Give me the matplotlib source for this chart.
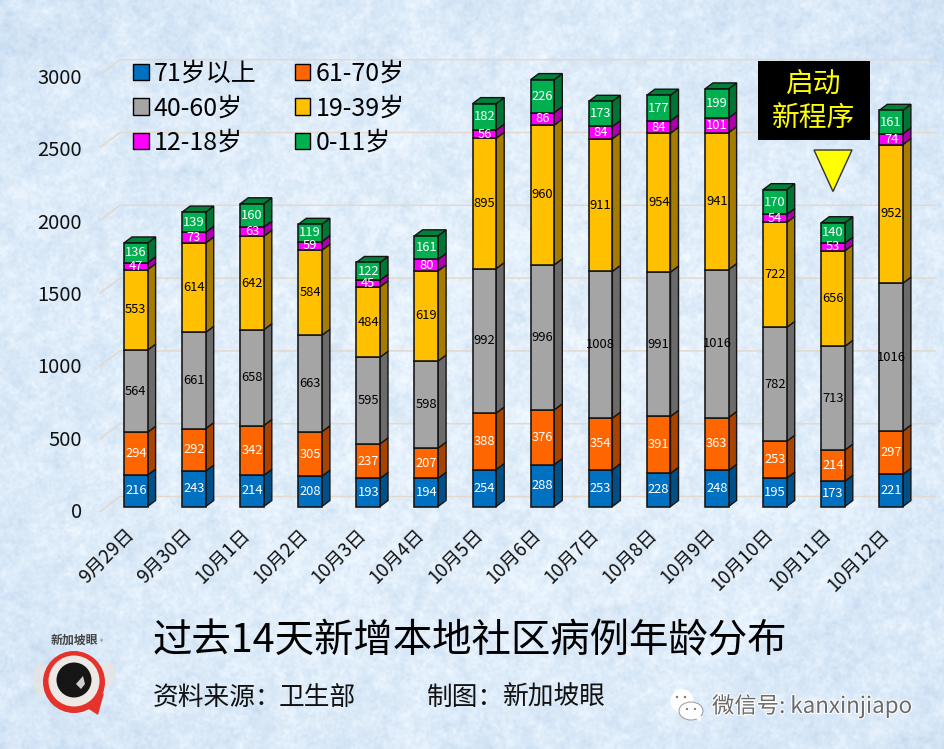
import numpy as np
import matplotlib
matplotlib.use('Agg')
import matplotlib.pyplot as plt
from matplotlib.patches import Polygon, Rectangle, Circle, Ellipse
from matplotlib.transforms import ScaledTranslation
import matplotlib.patheffects as pe

plt.rcParams['font.family'] = ['Noto Sans CJK SC', 'DejaVu Sans']

dates = ['9月29日','9月30日','10月1日','10月2日','10月3日','10月4日','10月5日','10月6日','10月7日','10月8日','10月9日','10月10日','10月11日','10月12日']
age_71 = [216,243,214,208,193,194,254,288,253,228,248,195,173,221]
age_61 = [294,292,342,305,237,207,388,376,354,391,363,253,214,297]
age_40 = [564,661,658,663,595,598,992,996,1008,991,1016,782,713,1016]
age_19 = [553,614,642,584,484,619,895,960,911,954,941,722,656,952]
age_12 = [47,73,63,59,45,80,56,86,84,84,101,54,53,74]
age_0 = [136,139,160,119,122,161,182,226,173,177,199,170,140,161]
series = [age_71, age_61, age_40, age_19, age_12, age_0]
names = ['71岁以上','61-70岁','40-60岁','19-39岁','12-18岁','0-11岁']
fronts = ['#0070C0','#FF6600','#A5A5A5','#FFC000','#FF00FF','#00B050']
sides = ['#004F86','#A84300','#6B6B6B','#A67C00','#A900A9','#007434']
label_colors = ['white','white','black','black','white','white']
yticks = [0,500,1000,1500,2000,2500,3000]

W, H = 945, 749
PX_Y = 0.1456       # pixels per case
PX_X = 58.1         # pixels per category
fig = plt.figure(figsize=(W/100, H/100), dpi=100)

# background: soft mottled paper, from a deterministic hash texture
bg = fig.add_axes([0, 0, 1, 1], zorder=0)
yy, xx = np.mgrid[0:H, 0:W]
def hashed(a, b):
    h = np.sin(xx*a + yy*b) * 43758.5453
    return h - np.floor(h)
def blur(img, sigma):
    fy = np.fft.fftfreq(H)[:, None]
    fx = np.fft.rfftfreq(W)[None, :]
    g = np.exp(-2*(np.pi*sigma)**2*(fx**2 + fy**2))
    out = np.fft.irfft2(np.fft.rfft2(img - img.mean())*g, s=img.shape)
    return out/out.std()
tex = 0.7*blur(hashed(12.9898, 78.233), 1.2) + 0.7*blur(hashed(39.346, 11.135), 3.5) + 0.4*blur(hashed(73.156, 52.235), 16)
tex = tex/tex.std()
u = (xx/W - 0.5)*2
w = (yy/H - 0.5)*2
glow = 1 - 0.5*(u**2 + w**2)
base = np.array([0xD4, 0xE5, 0xF6]) / 255
light = np.array([0x10, 0x0B, 0x05]) / 255
grain = np.array([0x0D, 0x09, 0x05]) / 255
img = base[None, None, :] + glow[..., None]*light[None, None, :] + tex[..., None]*grain[None, None, :]*0.4
bg.imshow(np.clip(img, 0, 1), aspect='auto', interpolation='bilinear')
bg.axis('off')

# chart axes: the front edge of the plot floor is value 0
L, R, B, T = 100, 935, 511.5, 40
ax = fig.add_axes([L/W, 1-B/H, (R-L)/W, (B-T)/H], zorder=1)
ax.patch.set_alpha(0)
ax.set_xlim((L-135.8)/PX_X, (R-135.8)/PX_X)
ax.set_ylim(0, (B-T)/PX_Y)
for s in ax.spines.values():
    s.set_visible(False)

# wall gridlines
x0, x1 = ax.get_xlim()
wall_dx, wall_dy = 20/PX_X, 15/PX_Y
for t in yticks:
    ax.plot([x0, x0+wall_dx, x1], [t, t+wall_dy, t+wall_dy], color='#E2D9CF', lw=1.1, zorder=1, clip_on=False)

# value labels sit on their own slightly tighter axis, as in the reference
ax.set_yticks([])
lab_b, lab_t = 510, 76
ax_lab = fig.add_axes([L/W, 1-lab_b/H, 0.001, (lab_b-lab_t)/H], zorder=1)
ax_lab.patch.set_alpha(0)
ax_lab.set_ylim(0, 3000)
ax_lab.set_xticks([])
for s in ax_lab.spines.values():
    s.set_visible(False)
ax_lab.set_yticks(yticks)
ax_lab.set_yticklabels([str(t) for t in yticks], fontsize=14.5, color='#111111')
ax_lab.tick_params(axis='y', length=0, pad=13)

ax.set_xticks(range(len(dates)))
ax.set_xticklabels(dates, rotation=45, ha='right', rotation_mode='anchor', fontsize=13.5, color='#111111')
ax.tick_params(axis='x', length=0, pad=13)
shift_x = ScaledTranslation(-12/100, 5/100, fig.dpi_scale_trans)
for lab in ax.get_xticklabels():
    lab.set_transform(lab.get_transform() + shift_x)

# 3D stacked bars
bar_w = 23.6/PX_X
dx3, dy3 = 8/PX_X, 6/PX_Y
lift = 5/PX_Y
xs = np.arange(len(dates))
bottom = np.full(len(dates), lift, dtype=float)
edge = '#141414'
handles = []
for k, vals in enumerate(series):
    vals = np.array(vals, dtype=float)
    bars = ax.bar(xs, vals, bar_w, bottom=bottom, color=fronts[k], edgecolor=edge, linewidth=1.15, zorder=3)
    handles.append(Rectangle((0, 0), 1, 1, facecolor=fronts[k], edgecolor='black', linewidth=1.0))
    for x, b, val in zip(xs, bottom, vals):
        r = x + bar_w/2
        ax.add_patch(Polygon([(r, b), (r+dx3, b+dy3), (r+dx3, b+val+dy3), (r, b+val)],
                             closed=True, facecolor=sides[k], edgecolor=edge, linewidth=1.0, zorder=2.9))
        ax.text(x, b+val/2, f'{int(val)}', ha='center', va='center', fontsize=9.3, color=label_colors[k], zorder=5)
        if k == len(series)-1:
            l = x - bar_w/2
            t = b + val
            ax.add_patch(Polygon([(l, t), (l+dx3, t+dy3), (r+dx3, t+dy3), (r, t)],
                                 closed=True, facecolor='#008038', edgecolor=edge, linewidth=1.0, zorder=2.9))
    bottom = bottom + vals

order = [0, 2, 4, 1, 3, 5]
leg = ax.legend([handles[i] for i in order], [names[i] for i in order], ncol=2, frameon=False,
                fontsize=18, loc='upper left', bbox_to_anchor=(133/W, 1-61/H), bbox_transform=fig.transFigure,
                borderaxespad=0, borderpad=0, handlelength=0.62, handleheight=0.62, handletextpad=0.22,
                labelspacing=0.33, columnspacing=1.52)
leg.set_zorder(6)

# overlay in pixel coordinates
ov = fig.add_axes([0, 0, 1, 1], zorder=2)
ov.set_xlim(0, W)
ov.set_ylim(H, 0)
ov.axis('off')
ov.patch.set_alpha(0)

# callout
ov.add_patch(Rectangle((758, 61), 112, 79, facecolor='black', edgecolor='none'))
ov.text(814, 84, '启动', color='#FFFF00', fontsize=20, ha='center', va='center')
ov.text(814, 118, '新程序', color='#FFFF00', fontsize=20, ha='center', va='center')
ov.add_patch(Polygon([(814, 150), (852, 150), (833, 191.5)], closed=True, facecolor='#FFFF00', edgecolor='#333333', linewidth=1))

# titles
ov.text(153, 641, '过去14天新增本地社区病例年龄分布', fontsize=28.4, ha='left', va='center', color='black')
ov.text(153, 698, '资料来源：', fontsize=18.5, ha='left', va='center', color='#111111')
ov.text(279, 698, '卫生部', fontsize=18.5, ha='left', va='center', color='#111111')
ov.text(427, 698, '制图：', fontsize=18.5, ha='left', va='center', color='#111111')
ov.text(503, 698, '新加坡眼', fontsize=18.5, ha='left', va='center', color='#111111')

# logo
ov.add_patch(Ellipse((40, 680), 14, 34, facecolor='#E9E5E0', edgecolor='none', alpha=0.7))
ov.add_patch(Ellipse((108, 674), 14, 26, facecolor='#E9E5E0', edgecolor='none', alpha=0.7))
ov.text(74, 640, '新加坡眼', fontsize=8.6, ha='center', va='center', color='#444444', fontweight='bold')
ov.text(101, 642, '®', fontsize=5, ha='center', va='center', color='#666666')
ov.add_patch(Polygon([(84, 706), (104, 693), (98, 715)], closed=True, facecolor='#E5322B', edgecolor='none'))
ov.add_patch(Circle((74, 682), 31, facecolor='#E5322B', edgecolor='none'))
ov.add_patch(Circle((74, 681), 25.5, facecolor='#EDE9E6', edgecolor='none'))
ov.add_patch(Circle((74, 680), 17.5, facecolor='#161616', edgecolor='none'))
ov.add_patch(Polygon([(76, 684), (83, 676), (85, 684), (81, 689)], closed=True, facecolor='#CFCFCF', edgecolor='none'))

# watermark
halo = [pe.withStroke(linewidth=1.6, foreground='white')]
ov.text(712, 706, '微信号: kanxinjiapo', fontsize=16.1, ha='left', va='center', color='#6A6A6A', path_effects=halo)
ov.add_patch(Ellipse((682, 701), 23, 24, facecolor='white', edgecolor='none'))
ov.add_patch(Ellipse((691, 711), 24, 18, facecolor='white', edgecolor='#999999', linewidth=0.7))
ov.add_patch(Polygon([(695, 717), (702, 716), (700, 722)], closed=True, facecolor='white', edgecolor='none'))
for cx, cy, r in [(677, 697, 1.2), (685, 697, 1.2), (687, 709, 1.1), (695, 709, 1.1)]:
    ov.add_patch(Circle((cx, cy), r, facecolor='#777777', edgecolor='none'))

fig.savefig('out.png', dpi=100)
